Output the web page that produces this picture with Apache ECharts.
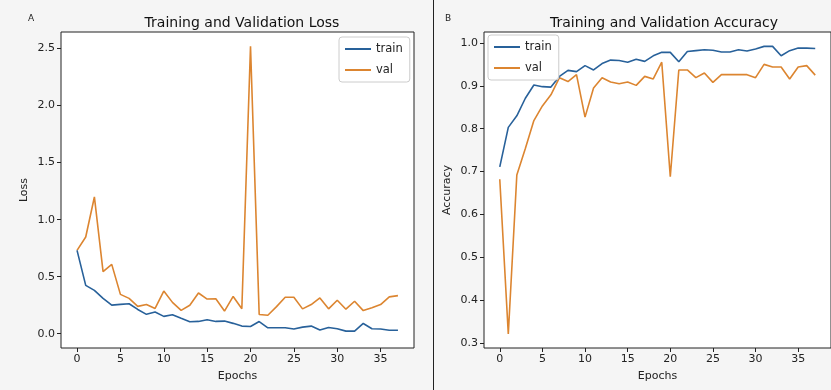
<!DOCTYPE html>
<html>
<head>
<meta charset="utf-8">
<script src="https://cdn.jsdelivr.net/npm/echarts@6/dist/echarts.min.js"></script>
<style>
html,body{margin:0;padding:0;background:#f5f5f5;}
#main{width:831px;height:390px;}
</style>
</head>
<body>
<div id="main"></div>
<script>
const epochs = Array.from({length: 38}, (_, i) => i);
const xTicks = [0, 5, 10, 15, 20, 25, 30, 35];
const lossTicks = [0, 0.5, 1.0, 1.5, 2.0, 2.5];
const accTicks = [0.3, 0.4, 0.5, 0.6, 0.7, 0.8, 0.9, 1.0];

const trainLoss = [0.731, 0.424, 0.380, 0.310, 0.251, 0.257, 0.263, 0.213, 0.170, 0.190,
  0.152, 0.167, 0.135, 0.105, 0.108, 0.123, 0.108, 0.111, 0.091, 0.067,
  0.064, 0.107, 0.052, 0.052, 0.052, 0.041, 0.058, 0.067, 0.032, 0.055,
  0.044, 0.023, 0.023, 0.090, 0.044, 0.041, 0.030, 0.030];
const valLoss = [0.731, 0.848, 1.199, 0.544, 0.608, 0.345, 0.310, 0.240, 0.257, 0.222,
  0.374, 0.275, 0.205, 0.250, 0.357, 0.304, 0.307, 0.199, 0.327, 0.219,
  2.520, 0.168, 0.162, 0.238, 0.320, 0.320, 0.218, 0.256, 0.314, 0.218,
  0.294, 0.215, 0.285, 0.203, 0.227, 0.256, 0.323, 0.334];
const trainAcc = [0.711, 0.803, 0.830, 0.871, 0.902, 0.898, 0.897, 0.922, 0.936, 0.933,
  0.947, 0.937, 0.952, 0.960, 0.959, 0.955, 0.962, 0.957, 0.970, 0.978,
  0.978, 0.956, 0.980, 0.982, 0.984, 0.983, 0.979, 0.979, 0.984, 0.981,
  0.986, 0.992, 0.992, 0.970, 0.982, 0.988, 0.988, 0.987];
const valAcc = [0.682, 0.321, 0.692, 0.754, 0.819, 0.853, 0.879, 0.919, 0.910, 0.926,
  0.827, 0.895, 0.919, 0.909, 0.905, 0.909, 0.901, 0.922, 0.916, 0.955,
  0.688, 0.937, 0.937, 0.919, 0.930, 0.908, 0.926, 0.926, 0.926, 0.926,
  0.919, 0.950, 0.944, 0.944, 0.916, 0.944, 0.947, 0.925];

const TRAIN = '#28619a';
const VAL = '#dc8530';
const FONT = 'DejaVu Sans';

function pairs(ys) { return epochs.map((e, i) => [e, ys[i]]); }

function xAxis(idx) {
  return {
    type: 'value', gridIndex: idx, min: -1.85, max: 38.85, position: 'bottom',
    name: 'Epochs', nameLocation: 'middle', nameGap: 23,
    nameTextStyle: {fontFamily: FONT, fontSize: 11, color: '#222'},
    splitLine: {show: false},
    axisLine: {show: false, onZero: false},
    axisTick: {show: true, length: 4, inside: false, customValues: xTicks, lineStyle: {color: '#222'}},
    axisLabel: {customValues: xTicks, fontFamily: FONT, fontSize: 11, color: '#222', margin: 6}
  };
}
function yAxis(idx, min, max, ticks, name, gap) {
  return {
    type: 'value', gridIndex: idx, min: min, max: max, position: 'left',
    name: name, nameLocation: 'middle', nameGap: gap, nameRotate: 90,
    nameTextStyle: {fontFamily: FONT, fontSize: 11, color: '#222'},
    splitLine: {show: false},
    axisLine: {show: false, onZero: false},
    axisTick: {show: true, length: 4, customValues: ticks, lineStyle: {color: '#222'}},
    axisLabel: {customValues: ticks, fontFamily: FONT, fontSize: 11, color: '#222', margin: 6,
      formatter: v => v.toFixed(1)}
  };
}
function legend(left, top, gridIdx) {
  return {
    left: left, top: top, orient: 'vertical',
    data: [
      {name: gridIdx === 0 ? 'train' : 'train ', itemStyle: {color: TRAIN}},
      {name: gridIdx === 0 ? 'val' : 'val ', itemStyle: {color: VAL}}
    ],
    formatter: n => n.trim(),
    icon: 'rect', itemWidth: 26, itemHeight: 2, itemGap: 9,
    backgroundColor: 'rgba(255,255,255,0.85)', borderColor: '#cccccc', borderWidth: 1, borderRadius: 3,
    padding: [6, 7, 6, 6],
    textStyle: {fontFamily: FONT, fontSize: 11.5, color: '#222'}
  };
}
function line(name, x, y, data, color) {
  return {
    name: name, type: 'line', xAxisIndex: x, yAxisIndex: y, data: data,
    showSymbol: false, symbol: 'none', smooth: false,
    lineStyle: {color: color, width: 1.6}, itemStyle: {color: color},
    animation: false, z: color === TRAIN ? 3 : 2
  };
}

const chart = echarts.init(document.getElementById('main'), null, {renderer: 'canvas'});
chart.setOption({
  backgroundColor: '#f5f5f5',
  animation: false,
  title: [
    {text: 'Training and Validation Loss', left: 237, top: 11, textAlign: 'center',
      textStyle: {fontFamily: FONT, fontSize: 14, fontWeight: 'normal', color: '#111'}},
    {text: 'Training and Validation Accuracy', left: 659, top: 11, textAlign: 'center',
      textStyle: {fontFamily: FONT, fontSize: 14, fontWeight: 'normal', color: '#111'}}
  ],
  legend: [legend(339, 37, 0), legend(488, 35, 1)],
  grid: [
    {left: 61, top: 32, width: 353, height: 316, show: true, backgroundColor: '#ffffff', borderColor: '#222', borderWidth: 1},
    {left: 484, top: 32, width: 353, height: 316, show: true, backgroundColor: '#ffffff', borderColor: '#222', borderWidth: 1}
  ],
  xAxis: [xAxis(0), xAxis(1)],
  yAxis: [
    yAxis(0, -0.125, 2.645, lossTicks, 'Loss', 31),
    yAxis(1, 0.2885, 1.0255, accTicks, 'Accuracy', 31)
  ],
  series: [
    line('train', 0, 0, pairs(trainLoss), TRAIN),
    line('val', 0, 0, pairs(valLoss), VAL),
    line('train ', 1, 1, pairs(trainAcc), TRAIN),
    line('val ', 1, 1, pairs(valAcc), VAL)
  ],
  graphic: [
    {type: 'line', shape: {x1: 433.5, y1: 0, x2: 433.5, y2: 390}, style: {stroke: '#222', lineWidth: 1}},
    {type: 'text', left: 28, top: 14, style: {text: 'A', fontFamily: FONT, fontSize: 9, fill: '#222'}},
    {type: 'text', left: 445, top: 14, style: {text: 'B', fontFamily: FONT, fontSize: 9, fill: '#222'}}
  ]
});
</script>
</body>
</html>
